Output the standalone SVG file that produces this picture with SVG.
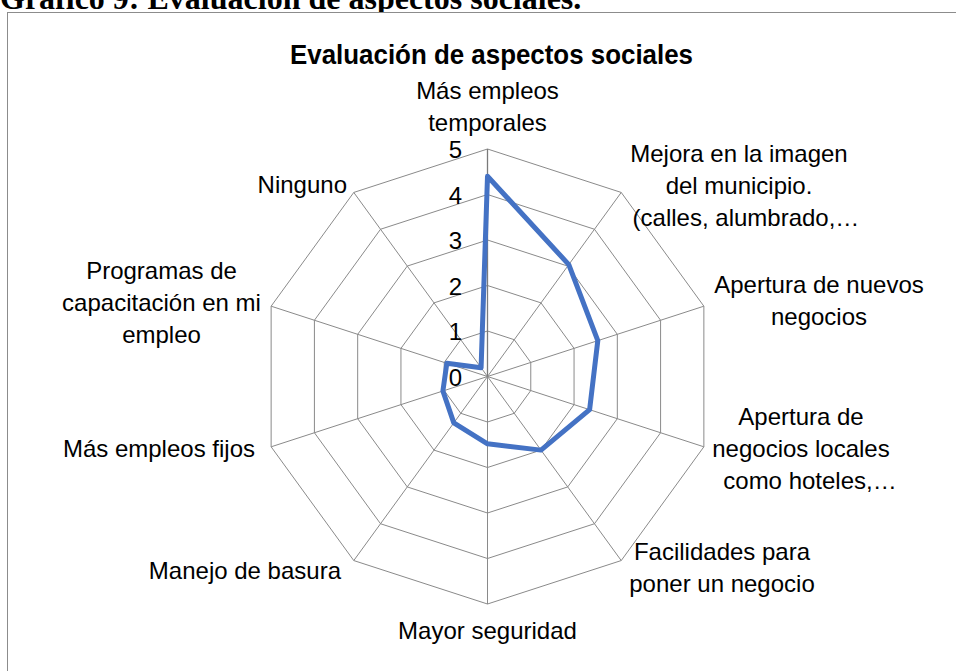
<svg xmlns="http://www.w3.org/2000/svg" width="956" height="671" viewBox="0 0 956 671">
<style>
.grid{fill:none;stroke:#8a8a8a;stroke-width:1}
.lbl{font-family:"Liberation Sans",Arial,sans-serif;font-size:24px;fill:#000}
.mid{text-anchor:middle}
.end{text-anchor:end}
.num{font-family:"Liberation Sans",Arial,sans-serif;font-size:24px;fill:#000;text-anchor:end}
</style>
<rect width="956" height="671" fill="#fff"/>
<text id="caption" x="0" y="9" font-family="'Liberation Serif','Times New Roman',serif" font-weight="bold" font-size="32">Gráfico 9: Evaluación de aspectos sociales.</text>
<rect id="chart-border" x="7.5" y="12.5" width="1000" height="700" fill="#fff" stroke="#8c8c8c" stroke-width="1"/>
<text id="title" x="491.5" y="64" text-anchor="middle" font-family="'Liberation Sans',Arial,sans-serif" font-weight="bold" font-size="27" textLength="403" lengthAdjust="spacingAndGlyphs">Evaluación de aspectos sociales</text>
<g id="grid">
<polygon class="grid" points="487.5,331 514.24,339.69 530.77,362.44 530.77,390.56 514.24,413.31 487.5,422 460.76,413.31 444.23,390.56 444.23,362.44 460.76,339.69"/>
<polygon class="grid" points="487.5,285.5 540.99,302.88 574.05,348.38 574.05,404.62 540.99,450.12 487.5,467.5 434.01,450.12 400.95,404.62 400.95,348.38 434.01,302.88"/>
<polygon class="grid" points="487.5,240 567.73,266.07 617.32,334.32 617.32,418.68 567.73,486.93 487.5,513 407.27,486.93 357.68,418.68 357.68,334.32 407.27,266.07"/>
<polygon class="grid" points="487.5,194.5 594.48,229.26 660.59,320.26 660.59,432.74 594.48,523.74 487.5,558.5 380.52,523.74 314.41,432.74 314.41,320.26 380.52,229.26"/>
<polygon class="grid" points="487.5,149 621.22,192.45 703.87,306.2 703.87,446.8 621.22,560.55 487.5,604 353.78,560.55 271.13,446.8 271.13,306.2 353.78,192.45"/>
</g>
<g id="connectors">
<path class="grid" d="M487.5,376.5L621.22,192.45M487.5,376.5L703.87,306.2M487.5,376.5L703.87,446.8M487.5,376.5L621.22,560.55M487.5,376.5L487.5,604M487.5,376.5L353.78,560.55M487.5,376.5L271.13,446.8M487.5,376.5L271.13,306.2M487.5,376.5L353.78,192.45"/>
<line x1="487.5" y1="376.5" x2="487.5" y2="149" stroke="#7a7a7a" stroke-width="1.3"/>
</g>
<g id="value-axis">
<text class="num" x="462" y="158">5</text>
<text class="num" x="462" y="203.5">4</text>
<text class="num" x="462" y="249">3</text>
<text class="num" x="462" y="294.5">2</text>
<text class="num" x="462" y="340">1</text>
<text class="num" x="462" y="385.5">0</text>
</g>
<g id="series">
<polygon points="487.5,176.3 568.8,264.6 597.8,340.6 589.6,409.7 540.99,450.12 487.5,443.8 453.8,422.9 442.9,391 446.8,363.3 481.1,367.7" fill="none" stroke="#4472C4" stroke-width="5" stroke-linejoin="round"/>
</g>
<g id="n0"><text class="lbl mid" x="487.5" y="99">Más empleos</text><text class="lbl mid" x="487.5" y="131">temporales</text></g>
<g id="n1"><text class="lbl mid" x="739" y="162">Mejora en la imagen</text><text class="lbl mid" x="739" y="194">del municipio.</text><text class="lbl mid" x="746" y="226">(calles, alumbrado,…</text></g>
<g id="n2"><text class="lbl mid" x="819" y="293">Apertura de nuevos</text><text class="lbl mid" x="819" y="325">negocios</text></g>
<g id="n3"><text class="lbl mid" x="801" y="425">Apertura de</text><text class="lbl mid" x="801" y="457">negocios locales</text><text class="lbl mid" x="810" y="489">como hoteles,…</text></g>
<g id="n4"><text class="lbl mid" x="722" y="560">Facilidades para</text><text class="lbl mid" x="722" y="592">poner un negocio</text></g>
<g id="n5"><text class="lbl mid" x="487.5" y="639">Mayor seguridad</text></g>
<g id="n6"><text class="lbl end" x="341" y="579">Manejo de basura</text></g>
<g id="n7"><text class="lbl end" x="255" y="457">Más empleos fijos</text></g>
<g id="n8"><text class="lbl mid" x="161.5" y="279">Programas de</text><text class="lbl mid" x="161.5" y="311">capacitación en mi</text><text class="lbl mid" x="161.5" y="343">empleo</text></g>
<g id="n9"><text class="lbl end" x="347" y="193">Ninguno</text></g>
</svg>
